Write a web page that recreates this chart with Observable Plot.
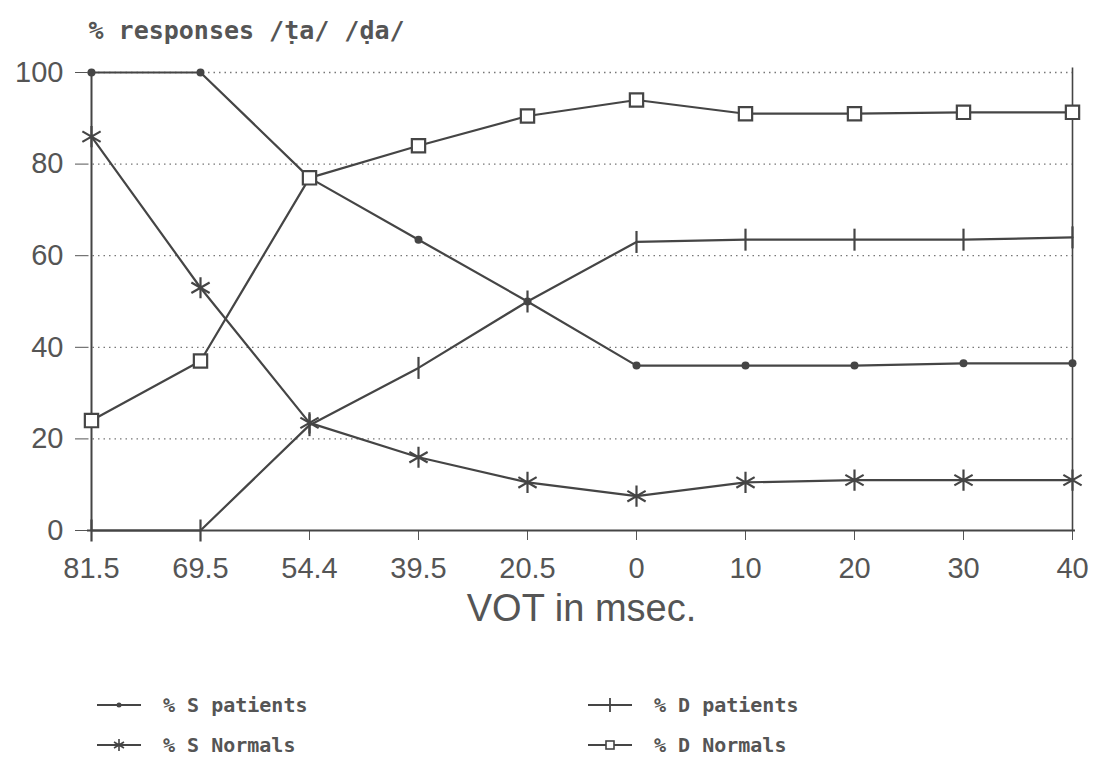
<!DOCTYPE html>
<html>
<head>
<meta charset="utf-8">
<script src="https://cdn.jsdelivr.net/npm/d3@7"></script>
<script src="https://cdn.jsdelivr.net/npm/@observablehq/plot@0.6"></script>
<style>
  html, body { margin: 0; padding: 0; background: #fff; }
  #wrap { position: relative; width: 1099px; height: 776px; overflow: hidden; }
  .leg { position: absolute; display: flex; align-items: center; font-family: "DejaVu Sans Mono", monospace; font-weight: bold; font-size: 20px; color: #555; }
  .leg svg { margin-right: 22px; }
</style>
</head>
<body>
<div id="wrap"></div>
<script>
// ---- data ----
const vot = ["81.5", "69.5", "54.4", "39.5", "20.5", "0", "10", "20", "30", "40"];
const sPatients = [100, 100, 77, 63.5, 50, 36, 36, 36, 36.5, 36.5];
const dPatients = [0, 0, 23, 35.5, 50, 63, 63.5, 63.5, 63.5, 64];
const sNormals = [86, 53, 23.5, 16, 10.5, 7.5, 10.5, 11, 11, 11];
const dNormals = [24, 37, 77, 84, 90.5, 94, 91, 91, 91.3, 91.3];
const seriesNames = ["% S patients", "% D patients", "% S Normals", "% D Normals"];
const yTicks = [0, 20, 40, 60, 80, 100];
const title = "% responses /ṭa/ /ḍa/";
const xTitle = "VOT in msec.";

const seriesValues = [sPatients, dPatients, sNormals, dNormals];
const rows = [];
seriesNames.forEach((name, i) => vot.forEach((v, j) => rows.push({series: name, vot: v, value: seriesValues[i][j]})));
const bySeries = name => rows.filter(d => d.series === name);

const ink = "#454545";
const vbar = {draw(ctx, size) { const r = Math.sqrt(size / Math.PI); ctx.moveTo(0, -r); ctx.lineTo(0, r); }};

const chart = Plot.plot({
  width: 1099,
  height: 680,
  marginTop: 72,
  marginBottom: 150,
  marginLeft: 87,
  marginRight: 24,
  style: {fontFamily: "'Liberation Sans', Arial, sans-serif", fontSize: "29px", color: "#555", background: "transparent"},
  x: {type: "point", domain: vot, padding: 0, label: null, tickSize: 10, tickPadding: 17},
  y: {domain: [0, 100], ticks: yTicks, label: null, tickSize: 12, tickPadding: 12},
  marks: [
    Plot.ruleY(yTicks.filter(t => t > 0), {stroke: "#777", strokeDasharray: "1.5,4", strokeWidth: 1.3}),
    Plot.ruleX([vot[0]], {stroke: ink, strokeWidth: 2}),
    Plot.ruleX([vot[vot.length - 1]], {y1: 0, y2: 101, stroke: ink, strokeWidth: 1.6}),
    Plot.ruleY([0], {stroke: ink, strokeWidth: 2}),
    Plot.line(rows, {x: "vot", y: "value", z: "series", stroke: ink, strokeWidth: 2.2}),
    Plot.dot(bySeries(seriesNames[0]), {x: "vot", y: "value", r: 4, fill: ink, stroke: "none"}),
    Plot.dot(bySeries(seriesNames[1]), {x: "vot", y: "value", r: 11, symbol: vbar, fill: "none", stroke: ink, strokeWidth: 2.2}),
    Plot.dot(bySeries(seriesNames[2]), {x: "vot", y: "value", r: 10, symbol: "asterisk", fill: "none", stroke: ink, strokeWidth: 2.2}),
    Plot.dot(bySeries(seriesNames[3]), {x: "vot", y: "value", r: 7.5, symbol: "square", fill: "white", stroke: ink, strokeWidth: 2.2}),
    Plot.text([title], {frameAnchor: "top-left", lineAnchor: "middle", dx: 1, dy: -42, textAnchor: "start", fontSize: 25, fontWeight: "bold", fontFamily: "'DejaVu Sans Mono', monospace", fill: "#555"}),
    Plot.text([xTitle], {frameAnchor: "bottom", lineAnchor: "middle", dy: 78, fontSize: 38, fill: "#555"})
  ]
});
const wrap = document.getElementById("wrap");
wrap.appendChild(chart);

// legend below the chart
const legendPos = [[97, 705], [588, 705], [97, 745], [588, 745]];
const symbolSvg = [
  `<circle cx="22" cy="10" r="2.5" fill="${ink}"/>`,
  `<line x1="22" y1="3" x2="22" y2="17" stroke="${ink}" stroke-width="1.8"/>`,
  `<path d="M22,4V16M17,7L27,13M17,13L27,7" stroke="${ink}" stroke-width="1.6" fill="none"/>`,
  `<rect x="18" y="6" width="8" height="8" fill="white" stroke="${ink}" stroke-width="1.6"/>`
];
seriesNames.forEach((name, i) => {
  const div = document.createElement("div");
  div.className = "leg";
  div.style.left = legendPos[i][0] + "px";
  div.style.top = (legendPos[i][1] - 12) + "px";
  div.innerHTML = `<svg width="44" height="20" viewBox="0 0 44 20"><line x1="0" y1="10" x2="44" y2="10" stroke="${ink}" stroke-width="1.8"/>${symbolSvg[i]}</svg><span>${name}</span>`;
  wrap.appendChild(div);
});
</script>
</body>
</html>
